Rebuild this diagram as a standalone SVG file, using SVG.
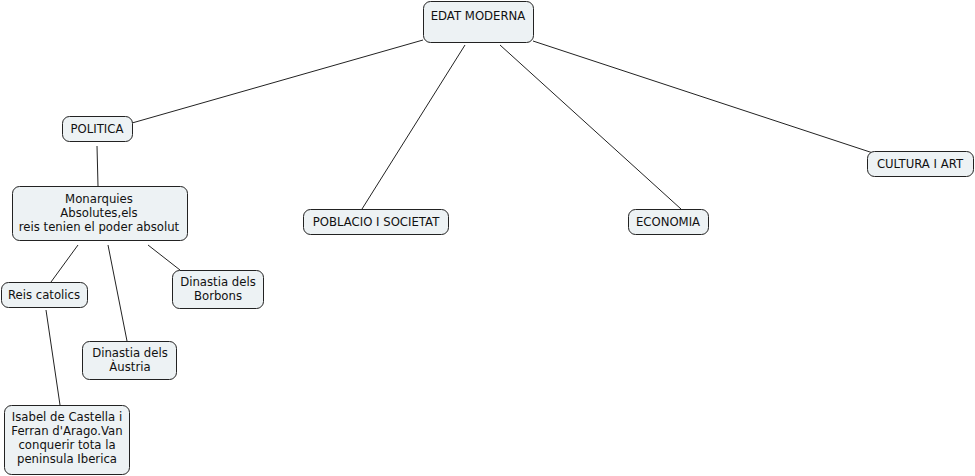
<svg xmlns="http://www.w3.org/2000/svg" width="975" height="476" viewBox="0 0 975 476">
<style>
.n rect{fill:#edf2f4;stroke:#222;stroke-width:1}
.n text{font-family:"DejaVu Sans",sans-serif;font-size:11.7px;fill:#111;text-anchor:middle}
.c line{stroke:#222;stroke-width:1}
</style>
<rect width="975" height="476" fill="#fff"/>
<g class="c">
<line x1="423" y1="40" x2="132" y2="123"/>
<line x1="465" y1="45" x2="362" y2="209"/>
<line x1="500" y1="45" x2="681" y2="209"/>
<line x1="533" y1="41" x2="873" y2="153"/>
<line x1="97" y1="146" x2="98" y2="186"/>
<line x1="78" y1="245" x2="51" y2="282"/>
<line x1="108" y1="245" x2="127" y2="341"/>
<line x1="148" y1="245" x2="180" y2="270"/>
<line x1="46" y1="310" x2="60" y2="405"/>
</g>
<g id="edat" class="n"><rect x="423.5" y="1.5" width="110" height="41" rx="7"/><text x="478" y="20">EDAT MODERNA</text></g>
<g id="politica" class="n"><rect x="62.5" y="116.5" width="70" height="25" rx="7"/><text x="97" y="133">POLITICA</text></g>
<g id="monarquies" class="n"><rect x="12.5" y="186.5" width="175" height="54" rx="7"/><text x="99" y="203">Monarquies</text><text x="99" y="217">Absolutes,els</text><text x="99" y="231">reis tenien el poder absolut</text></g>
<g id="reis" class="n"><rect x="1.5" y="282.5" width="86" height="25" rx="7"/><text x="44" y="299">Reis catolics</text></g>
<g id="borbons" class="n"><rect x="172.5" y="270.5" width="91" height="38" rx="7"/><text x="218" y="286">Dinastia dels</text><text x="218" y="300">Borbons</text></g>
<g id="austria" class="n"><rect x="82.5" y="341.5" width="94" height="38" rx="7"/><text x="130" y="357">Dinastia dels</text><text x="130" y="371">Àustria</text></g>
<g id="isabel" class="n"><rect x="4.5" y="405.5" width="125" height="69" rx="7"/><text x="67" y="421">Isabel de Castella i</text><text x="67" y="435">Ferran d'Arago.Van</text><text x="67" y="449">conquerir tota la</text><text x="67" y="463">peninsula Iberica</text></g>
<g id="poblacio" class="n"><rect x="303.5" y="209.5" width="145" height="25" rx="7"/><text x="376" y="226">POBLACIO I SOCIETAT</text></g>
<g id="economia" class="n"><rect x="628.5" y="209.5" width="80" height="25" rx="7"/><text x="668" y="226">ECONOMIA</text></g>
<g id="cultura" class="n"><rect x="867.5" y="151.5" width="106" height="25" rx="7"/><text x="920" y="168">CULTURA I ART</text></g>
</svg>
